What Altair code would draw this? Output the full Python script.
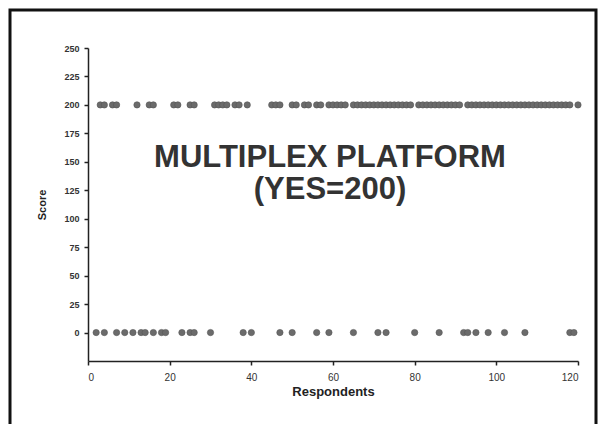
import altair as alt
import pandas as pd

# Respondents answering YES (score 200) and NO (score 0)
yes_respondents = [3, 4, 6, 7, 12, 15, 16, 21, 22, 25, 26, 31, 32, 33, 34, 36, 37, 39,
                   45, 46, 47, 50, 51, 53, 54, 56, 57, 59, 60, 61, 62, 63,
                   65, 66, 67, 68, 69, 70, 71, 72, 73, 74, 75, 76, 77, 78, 79,
                   81, 82, 83, 84, 85, 86, 87, 88, 89, 90, 91,
                   93, 94, 95, 96, 97, 98, 99, 100, 101, 102, 103, 104, 105, 106,
                   107, 108, 109, 110, 111, 112, 113, 114, 115, 116, 117, 118, 120]
no_respondents = [2, 4, 7, 9, 11, 13, 14, 16, 18, 19, 23, 25, 26, 30, 38, 40, 47, 50,
                  56, 59, 65, 71, 73, 80, 86, 92, 93, 95, 98, 102, 107, 118, 119]
yes_score = 200
no_score = 0

x_ticks = [0, 20, 40, 60, 80, 100, 120]
y_ticks = [0, 25, 50, 75, 100, 125, 150, 175, 200, 225, 250]
note_lines = ["MULTIPLEX PLATFORM", "(YES=200)"]

df = pd.DataFrame({
    "Respondent": yes_respondents + no_respondents,
    "Score": [yes_score] * len(yes_respondents) + [no_score] * len(no_respondents),
})

FONT = "Liberation Sans"

points = alt.Chart(df).mark_circle(
    size=40, color="#6b6b6b", opacity=1, stroke="#555555", strokeWidth=0.6
).encode(
    x=alt.X("Respondent:Q",
            scale=alt.Scale(domain=[0, 120], nice=False, zero=False),
            axis=alt.Axis(values=x_ticks, title="Respondents", format="d",
                          labelFontSize=10, labelFont=FONT, labelColor="#333333",
                          labelPadding=7, tickSize=4,
                          titleFont=FONT, titleFontSize=13, titleFontWeight="bold",
                          titleColor="#222222", titlePadding=3)),
    y=alt.Y("Score:Q",
            scale=alt.Scale(domain=[-25, 250], nice=False, zero=False),
            axis=alt.Axis(values=y_ticks, title="Score", format="d",
                          labelFontSize=9, labelFont=FONT, labelFontWeight="bold",
                          labelColor="#333333", labelPadding=5, tickSize=4,
                          titleFont=FONT, titleFontSize=11, titleFontWeight="bold",
                          titleColor="#222222", titlePadding=16)),
)

line1 = alt.Chart(pd.DataFrame({"t": [note_lines[0]]})).mark_text(
    font=FONT, fontSize=31, fontWeight="bold", color="#333333", baseline="middle"
).encode(x=alt.value(242), y=alt.value(110), text="t:N")

line2 = alt.Chart(pd.DataFrame({"t": [note_lines[1]]})).mark_text(
    font=FONT, fontSize=31, fontWeight="bold", color="#333333", baseline="middle"
).encode(x=alt.value(242), y=alt.value(142), text="t:N")

frame = alt.Chart(pd.DataFrame({"f": [0]})).mark_rect(
    fillOpacity=0, stroke="#111111", strokeWidth=3
).encode(x=alt.value(-78), x2=alt.value(508), y=alt.value(-38), y2=alt.value(420))

chart = alt.layer(frame, points, line1, line2).properties(
    width=490, height=313,
    autosize=alt.AutoSizeParams(type="none"),
    padding={"left": 80, "top": 40, "right": 20, "bottom": 63},
    background="white",
).configure_view(stroke=None).configure_axis(
    grid=False, domainColor="#222222", domainWidth=1.5, tickColor="#222222", tickWidth=1.5
)

chart.save("out.html", embed_options={"renderer": "svg", "actions": False})
